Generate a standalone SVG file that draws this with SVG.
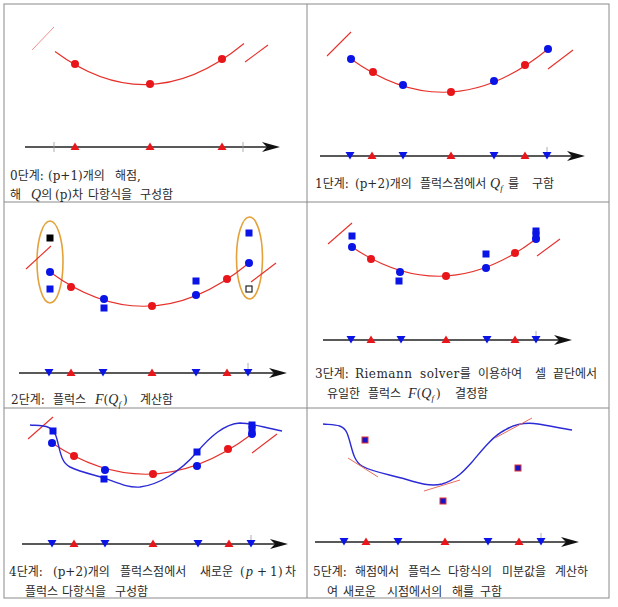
<svg xmlns="http://www.w3.org/2000/svg" width="618" height="607" viewBox="0 0 618 607">
<style>
.grid{fill:none;stroke:#8a8a8a;stroke-width:1}
.curve{fill:none;stroke:#e6302a;stroke-width:1.1}
.slash{fill:none;stroke:#e6302a;stroke-width:1.1}
.slash-l{fill:none;stroke:#f09090;stroke-width:1}
.bcurve{fill:none;stroke:#2a2ad6;stroke-width:1.4}
.tan{fill:none;stroke:#ec6a5a;stroke-width:1}
.axis{stroke:#222;stroke-width:1.3}
.tick{stroke:#9a9a9a;stroke-width:0.8}
.rdot{fill:#e8161b}
.bdot{fill:#0a14e6}
.ell{fill:none;stroke:#e3a23a;stroke-width:1.6}
.osq{fill:#fff;stroke:#222;stroke-width:1.2}
.rsq{fill:#1414c8;stroke:#e03030;stroke-width:1}
text{font-family:"DejaVu Serif","Noto Sans CJK KR",serif;font-size:12px;fill:#2a2a2a}
.m{font-style:italic;font-family:"Liberation Serif","DejaVu Serif",serif;font-size:14px}
.sub{font-style:italic;font-family:"Liberation Serif",serif;font-size:9px}
.ls{letter-spacing:0.5px}
</style>
<defs>
<path id="tu" d="M0,-4.5 L4.5,3 L-4.5,3 Z" fill="#e8161b"/>
<path id="td" d="M-4.5,-4 L4.5,-4 L0,3.5 Z" fill="#0a14e6"/>
<path id="ah" d="M0,0 L-18,-5 L-13,0 L-18,5 Z" fill="#111"/>
<rect id="sq" x="-3.5" y="-3.5" width="7" height="7" fill="#0a14e6"/>
</defs>

<g id="table">
<rect class="grid" x="4" y="4" width="605" height="594"/>
<line class="grid" x1="307" y1="4" x2="307" y2="598"/>
<line class="grid" x1="4" y1="202" x2="609" y2="202"/>
<line class="grid" x1="4" y1="408" x2="609" y2="408"/>
</g>

<g id="panel0">
<line class="slash-l" x1="32" y1="50" x2="54" y2="27"/>
<path class="curve" d="M55,51.5 Q149.5,121.5 244,43.5"/>
<line class="slash" x1="245" y1="62" x2="268" y2="45"/>
<circle class="rdot" cx="75" cy="64" r="4"/>
<circle class="rdot" cx="150" cy="84" r="4"/>
<circle class="rdot" cx="222" cy="59" r="4"/>
<line class="axis" x1="25" y1="147" x2="270" y2="147"/>
<use href="#ah" x="280" y="147"/>
<line class="tick" x1="54" y1="142" x2="54" y2="152"/>
<line class="tick" x1="243" y1="142" x2="243" y2="152"/>
<use href="#tu" x="75" y="147"/>
<use href="#tu" x="150" y="147"/>
<use href="#tu" x="222" y="147"/>
<text y="180"><tspan x="10">0단계:</tspan><tspan x="48">(p+1)개의</tspan><tspan x="115">해점,</tspan></text>
<text y="199"><tspan x="10">해</tspan><tspan x="31" class="m">Q</tspan><tspan>의</tspan><tspan x="55">(p)차</tspan><tspan x="88">다항식을</tspan><tspan x="140">구성함</tspan></text>
</g>

<g id="panel1">
<line class="slash" x1="327" y1="56" x2="351" y2="32"/>
<path class="curve" d="M351,59 Q449.5,130.2 548,49"/>
<line class="slash" x1="548" y1="69" x2="573" y2="50"/>
<circle class="bdot" cx="351" cy="59" r="4"/>
<circle class="bdot" cx="403" cy="85" r="4"/>
<circle class="bdot" cx="494" cy="81" r="4"/>
<circle class="bdot" cx="548" cy="49" r="4"/>
<circle class="rdot" cx="373" cy="72" r="4"/>
<circle class="rdot" cx="451" cy="92" r="4"/>
<circle class="rdot" cx="525" cy="65" r="4"/>
<line class="axis" x1="320" y1="156" x2="575" y2="156"/>
<use href="#ah" x="585" y="156"/>
<line class="tick" x1="547" y1="147" x2="547" y2="156"/>
<use href="#td" x="350" y="156"/>
<use href="#td" x="403" y="156"/>
<use href="#td" x="494" y="156"/>
<use href="#td" x="547" y="156"/>
<use href="#tu" x="372" y="156"/>
<use href="#tu" x="451" y="156"/>
<use href="#tu" x="525" y="156"/>
<text y="188"><tspan x="315">1단계:</tspan><tspan x="355">(p+2)개의</tspan><tspan x="420">플럭스점에서</tspan><tspan x="490" class="m">Q</tspan><tspan class="sub" dy="3">f</tspan><tspan x="508" dy="-3">를</tspan><tspan x="532">구함</tspan></text>
</g>

<g id="panel2">
<ellipse class="ell" cx="50" cy="262" rx="13" ry="41"/>
<ellipse class="ell" cx="249.5" cy="258" rx="13" ry="41"/>
<line class="slash" x1="26" y1="269" x2="51" y2="246"/>
<rect x="46.5" y="234.5" width="7" height="7" fill="#000"/>
<path class="curve" d="M50,272 Q149.5,344.8 249,263"/>
<line class="slash" x1="251" y1="282" x2="276" y2="263"/>
<use href="#sq" x="50" y="289"/>
<use href="#sq" x="104" y="308"/>
<use href="#sq" x="196" y="281"/>
<use href="#sq" x="249" y="233"/>
<circle class="bdot" cx="50" cy="272" r="4"/>
<circle class="bdot" cx="104" cy="299" r="4"/>
<circle class="bdot" cx="196" cy="295" r="4"/>
<circle class="bdot" cx="249" cy="263" r="4"/>
<circle class="rdot" cx="71" cy="287" r="4"/>
<circle class="rdot" cx="152" cy="306" r="4"/>
<circle class="rdot" cx="227" cy="279" r="4"/>
<rect class="osq" x="246" y="286" width="6" height="6"/>
<line class="axis" x1="19" y1="373" x2="277" y2="373"/>
<use href="#ah" x="287" y="373"/>
<line class="tick" x1="248" y1="363" x2="248" y2="373"/>
<use href="#td" x="49" y="373"/>
<use href="#td" x="103" y="373"/>
<use href="#td" x="196" y="373"/>
<use href="#td" x="248" y="373"/>
<use href="#tu" x="71" y="373"/>
<use href="#tu" x="152" y="373"/>
<use href="#tu" x="227" y="373"/>
<text y="404"><tspan x="11">2단계:</tspan><tspan x="53">플럭스</tspan><tspan x="95" class="m">F</tspan><tspan>(</tspan><tspan class="m">Q</tspan><tspan class="sub" dy="3">f</tspan><tspan dx="2" dy="-3">)</tspan><tspan x="140">계산함</tspan></text>
</g>

<g id="panel3">
<line class="slash" x1="328" y1="244" x2="352" y2="223"/>
<path class="curve" d="M352,247 Q444,309.2 536,239"/>
<line class="slash" x1="537" y1="256" x2="560" y2="239"/>
<use href="#sq" x="352" y="236"/>
<use href="#sq" x="399" y="281"/>
<use href="#sq" x="486" y="254"/>
<use href="#sq" x="536" y="231"/>
<use href="#sq" x="536" y="235"/>
<circle class="bdot" cx="352" cy="247" r="4"/>
<circle class="bdot" cx="400" cy="272" r="4"/>
<circle class="bdot" cx="486" cy="268" r="4"/>
<circle class="bdot" cx="536" cy="239" r="4"/>
<circle class="rdot" cx="371" cy="259" r="4"/>
<circle class="rdot" cx="446" cy="276" r="4"/>
<circle class="rdot" cx="515" cy="253" r="4"/>
<line class="axis" x1="323" y1="340" x2="562" y2="340"/>
<use href="#ah" x="572" y="340"/>
<line class="tick" x1="536" y1="331" x2="536" y2="340"/>
<use href="#td" x="351" y="340"/>
<use href="#td" x="401" y="340"/>
<use href="#td" x="487" y="340"/>
<use href="#td" x="536" y="340"/>
<use href="#tu" x="371" y="340"/>
<use href="#tu" x="446" y="340"/>
<use href="#tu" x="515" y="340"/>
<text y="378"><tspan x="315">3단계:</tspan><tspan x="355" class="ls">Riemann</tspan><tspan x="420" class="ls">solver</tspan><tspan>를</tspan><tspan x="478">이용하여</tspan><tspan x="535">셀</tspan><tspan x="553">끝단에서</tspan></text>
<text y="398"><tspan x="327">유일한</tspan><tspan x="368">플럭스</tspan><tspan x="408" class="m">F</tspan><tspan>(</tspan><tspan class="m">Q</tspan><tspan class="sub" dy="3">f</tspan><tspan dx="2" dy="-3">)</tspan><tspan x="455">결정함</tspan></text>
</g>

<g id="panel4">
<line class="slash" x1="28" y1="439" x2="53" y2="417"/>
<path class="curve" d="M52,443 Q152,509.6 252,434"/>
<path class="bcurve" d="M30,425 C44,426 52,425 56,436 C60,448 60,462 70,467 C80,472 95,475 104,478 C118,483 128,488 140,487 C158,485 180,472 197,452 C210,437 224,424 240,423 C250,423 262,427 282,431"/>
<line class="slash" x1="252" y1="453" x2="277" y2="434"/>
<use href="#sq" x="53" y="431"/>
<use href="#sq" x="104" y="479"/>
<use href="#sq" x="197" y="452"/>
<use href="#sq" x="252" y="425"/>
<use href="#sq" x="252" y="429"/>
<circle class="bdot" cx="52" cy="443" r="4"/>
<circle class="bdot" cx="105" cy="470" r="4"/>
<circle class="bdot" cx="197" cy="466" r="4"/>
<circle class="bdot" cx="252" cy="434" r="4"/>
<circle class="rdot" cx="74" cy="456" r="4"/>
<circle class="rdot" cx="153" cy="474" r="4"/>
<circle class="rdot" cx="228" cy="449" r="4"/>
<line class="axis" x1="22" y1="544" x2="278" y2="544"/>
<use href="#ah" x="288" y="544"/>
<line class="tick" x1="251" y1="535" x2="251" y2="544"/>
<use href="#td" x="52" y="544"/>
<use href="#td" x="105" y="544"/>
<use href="#td" x="198" y="544"/>
<use href="#td" x="251" y="544"/>
<use href="#tu" x="74" y="544"/>
<use href="#tu" x="153" y="544"/>
<use href="#tu" x="229" y="544"/>
<text y="576"><tspan x="9">4단계:</tspan><tspan x="53">(p+2)개의</tspan><tspan x="120">플럭스점에서</tspan><tspan x="200">새로운</tspan><tspan x="240">(</tspan><tspan x="246" class="m">p</tspan><tspan x="257">+</tspan><tspan x="270">1</tspan><tspan x="278">)</tspan><tspan x="285">차</tspan></text>
<text y="596"><tspan x="25">플럭스</tspan><tspan x="62">다항식을</tspan><tspan x="115">구성함</tspan></text>
</g>

<g id="panel5">
<path class="bcurve" d="M323,424 C335,425 343,424 347,433 C352,445 352,460 362,466 C372,472 392,475 405,479 C418,483 430,487 442,484 C456,480 465,470 472,462 C482,450 493,436 505,430 C515,424 525,422 538,424 C550,426 560,428 572,430"/>
<line class="tan" x1="348" y1="458" x2="378" y2="477"/>
<line class="tan" x1="424" y1="491" x2="460" y2="480"/>
<line class="tan" x1="495" y1="438" x2="532" y2="418"/>
<rect class="rsq" x="362" y="437" width="6" height="6"/>
<rect class="rsq" x="515" y="465" width="6" height="6"/>
<rect class="rsq" x="440" y="498" width="6" height="6"/>
<line class="axis" x1="315" y1="542" x2="569" y2="542"/>
<use href="#ah" x="579" y="542"/>
<line class="tick" x1="541" y1="533" x2="541" y2="542"/>
<use href="#td" x="344" y="542"/>
<use href="#td" x="398" y="542"/>
<use href="#td" x="488" y="542"/>
<use href="#td" x="541" y="542"/>
<use href="#tu" x="366" y="542"/>
<use href="#tu" x="445" y="542"/>
<use href="#tu" x="519" y="542"/>
<text y="576"><tspan x="313">5단계:</tspan><tspan x="355">해점에서</tspan><tspan x="408">플럭스</tspan><tspan x="448">다항식의</tspan><tspan x="502">미분값을</tspan><tspan x="555">계산하</tspan></text>
<text y="596"><tspan x="327">여</tspan><tspan x="343">새로운</tspan><tspan x="387">시점에서의</tspan><tspan x="452">해를</tspan><tspan x="480">구함</tspan></text>
</g>
</svg>
